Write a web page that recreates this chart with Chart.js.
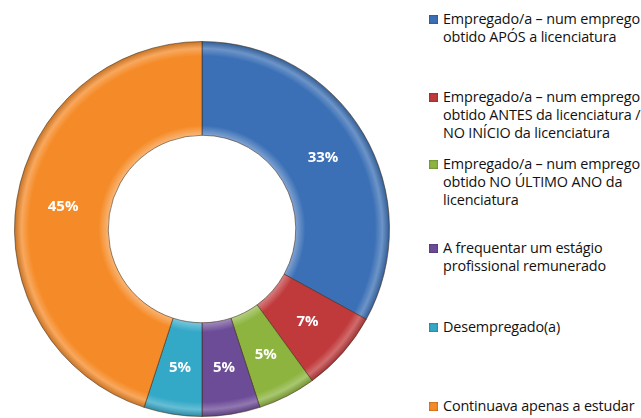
<!DOCTYPE html>
<html>
<head>
<meta charset="utf-8">
<script src="https://cdn.jsdelivr.net/npm/chart.js@4.4.0/dist/chart.umd.min.js"></script>
<style>
  body { margin: 0; background: #fff; }
  #wrap { position: relative; width: 641px; height: 418px; overflow: hidden; }
  #chart { position: absolute; left: 0; top: 0; }
  .leg { position: absolute; left: 429px; font-family: "Open Sans", "Noto Sans", sans-serif; font-size: 14.4px; line-height: 18px; color: #111; white-space: nowrap; letter-spacing: -0.15px; }
  .leg .box { position: absolute; left: 0; top: 5px; width: 9px; height: 9px; box-shadow: inset 0 0 2px rgba(0,0,0,0.5); }
  .leg .txt { margin-left: 14px; }
</style>
</head>
<body>
<div id="wrap">
  <canvas id="chart" width="420" height="418"></canvas>
</div>
<script>
// data
const labels = [
  ["Empregado/a – num emprego", "obtido APÓS a licenciatura"],
  ["Empregado/a – num emprego", "obtido ANTES da licenciatura /", "NO INÍCIO da licenciatura"],
  ["Empregado/a – num emprego", "obtido NO ÚLTIMO ANO da", "licenciatura"],
  ["A frequentar um estágio", "profissional remunerado"],
  ["Desempregado(a)"],
  ["Continuava apenas a estudar"]
];
const values = [33, 7, 5, 5, 5, 45];
const colors = ["#3b70b6", "#c0393b", "#8cb43f", "#6c4b97", "#33a8c7", "#f58b28"];

// legend layout (top of each item, px)
const legendTops = [10, 88, 155, 239, 318, 397];

function shade(hex, amt) {
  let n = parseInt(hex.slice(1), 16);
  let r = (n >> 16) & 255, g = (n >> 8) & 255, b = n & 255;
  const f = v => Math.max(0, Math.min(255, Math.round(amt > 0 ? v + (255 - v) * amt : v * (1 + amt))));
  return "rgb(" + f(r) + "," + f(g) + "," + f(b) + ")";
}

function bevel(context) {
  const chart = context.chart;
  const base = colors[context.dataIndex];
  const area = chart.chartArea;
  if (!area) return base;
  const cx = (area.left + area.right) / 2;
  const cy = (area.top + area.bottom) / 2;
  const r = Math.min(area.right - area.left, area.bottom - area.top) / 2;
  const g = chart.ctx.createRadialGradient(cx, cy, 0, cx, cy, r);
  g.addColorStop(0.5, shade(base, 0.35));
  g.addColorStop(0.55, base);
  g.addColorStop(0.92, base);
  g.addColorStop(0.96, shade(base, 0.25));
  g.addColorStop(1, shade(base, -0.2));
  return g;
}

const pctLabels = {
  id: "pctLabels",
  afterDatasetsDraw(chart) {
    const ctx = chart.ctx;
    const meta = chart.getDatasetMeta(0);
    ctx.save();
    ctx.font = "bold 15px 'Open Sans', 'Noto Sans', sans-serif";
    ctx.fillStyle = "#fff";
    ctx.textAlign = "center";
    ctx.textBaseline = "middle";
    meta.data.forEach((arc, i) => {
      const p = arc.tooltipPosition();
      ctx.fillText(values[i] + "%", p.x, p.y);
    });
    ctx.restore();
  }
};

new Chart(document.getElementById("chart").getContext("2d"), {
  type: "doughnut",
  data: {
    labels: labels.map(l => l.join(" ")),
    datasets: [{
      data: values,
      backgroundColor: bevel,
      borderColor: "rgba(60,40,20,0.55)",
      borderWidth: 1
    }]
  },
  options: {
    responsive: false,
    animation: false,
    cutout: "50%",
    layout: { padding: { left: 14, right: 30, top: 41, bottom: 1 } },
    plugins: {
      legend: { display: false },
      tooltip: { enabled: false }
    }
  },
  plugins: [pctLabels]
});

const wrap = document.getElementById("wrap");
labels.forEach((lines, i) => {
  const d = document.createElement("div");
  d.className = "leg";
  d.style.top = legendTops[i] + "px";
  d.innerHTML = '<span class="box" style="background:' + colors[i] + '"></span><div class="txt">' + lines.join("<br>") + "</div>";
  wrap.appendChild(d);
});
</script>
</body>
</html>
